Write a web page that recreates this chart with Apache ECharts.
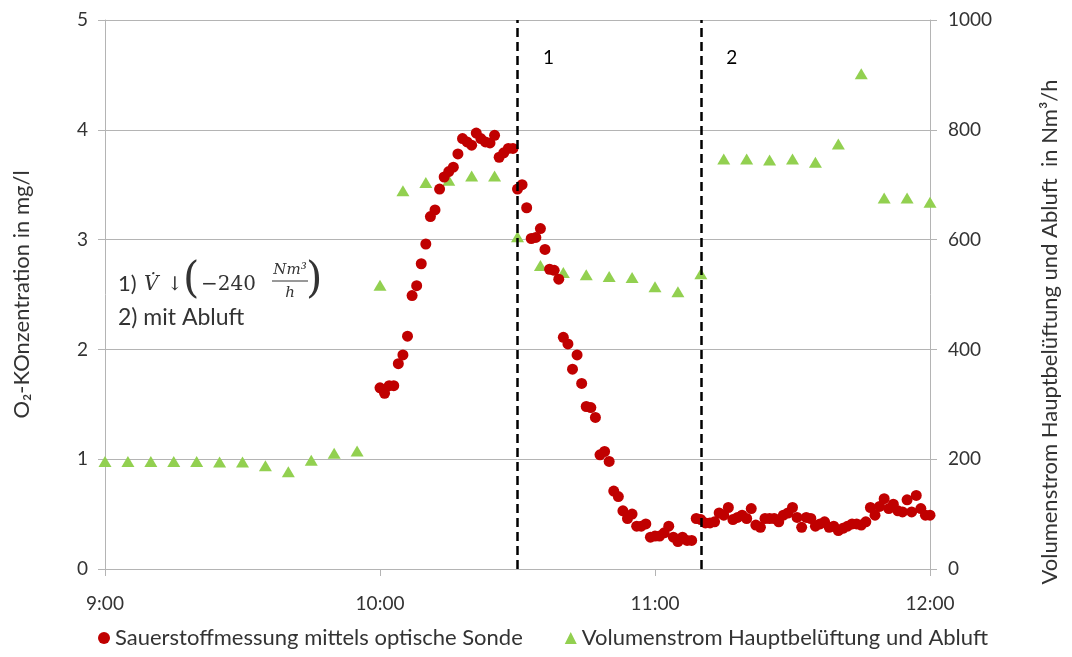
<!DOCTYPE html>
<html>
<head>
<meta charset="utf-8">
<script src="https://cdn.jsdelivr.net/npm/echarts@6/dist/echarts.min.js"></script>
<style>
  html, body { margin: 0; padding: 0; background: #fff; }
  #chart { width: 1072px; height: 657px; }
</style>
</head>
<body>
<div id="chart"></div>
<script>
// x in minutes after 9:00
const xTicks = [0, 60, 120, 180];

// O2 probe readings, one per minute from 10:00 to 12:00
const o2Minutes = [
  60, 61, 62, 63, 64, 65, 66, 67, 68, 69, 70, 71, 72, 73, 74, 75, 76, 77, 78, 79,
  80, 81, 82, 83, 84, 85, 86, 87, 88, 89, 90, 91, 92, 93, 94, 95, 96, 97, 98, 99,
  100, 101, 102, 103, 104, 105, 106, 107, 108, 109, 110, 111, 112, 113, 114, 115, 116, 117, 118, 119,
  120, 121, 122, 123, 124, 125, 126, 127, 128, 129, 130, 131, 132, 133, 134, 135, 136, 137, 138, 139,
  140, 141, 142, 143, 144, 145, 146, 147, 148, 149, 150, 151, 152, 153, 154, 155, 156, 157, 158, 159,
  160, 161, 162, 163, 164, 165, 166, 167, 168, 169, 170, 171, 172, 173, 174, 175, 176, 177, 178, 179,
  180
];
const o2Values = [
  1.65, 1.60, 1.67, 1.67, 1.87, 1.95, 2.12, 2.49, 2.58, 2.78, 2.96, 3.21, 3.27, 3.46, 3.57, 3.62, 3.66, 3.78, 3.92, 3.89,
  3.86, 3.97, 3.92, 3.89, 3.88, 3.95, 3.75, 3.79, 3.83, 3.83, 3.46, 3.50, 3.29, 3.01, 3.02, 3.10, 2.91, 2.73, 2.72, 2.64,
  2.11, 2.05, 1.82, 1.95, 1.69, 1.48, 1.47, 1.38, 1.04, 1.07, 0.98, 0.71, 0.66, 0.53, 0.46, 0.50, 0.39, 0.39, 0.41, 0.29,
  0.30, 0.30, 0.33, 0.39, 0.29, 0.25, 0.29, 0.26, 0.26, 0.46, 0.45, 0.42, 0.42, 0.43, 0.51, 0.49, 0.56, 0.45, 0.47, 0.49,
  0.46, 0.55, 0.40, 0.38, 0.46, 0.46, 0.46, 0.43, 0.49, 0.51, 0.56, 0.47, 0.38, 0.47, 0.46, 0.39, 0.41, 0.43, 0.38, 0.39,
  0.35, 0.37, 0.39, 0.41, 0.41, 0.40, 0.43, 0.56, 0.49, 0.57, 0.64, 0.55, 0.59, 0.53, 0.52, 0.63, 0.52, 0.67, 0.55, 0.49,
  0.49
];

// air flow, every 5 minutes from 9:00 to 12:00
const flowMinutes = [
  0, 5, 10, 15, 20, 25, 30, 35, 40, 45, 50, 55,
  60, 65, 70, 75, 80, 85, 90, 95, 100, 105, 110, 115, 120, 125, 130,
  135, 140, 145, 150, 155, 160, 165, 170, 175, 180
];
const flowValues = [
  196, 196, 196, 196, 196, 195, 195, 188, 177, 198, 211, 215,
  517, 689, 704, 708, 716, 716, 605, 553, 540, 536, 533, 531, 514, 505, 538,
  747, 747, 745, 747, 741, 774, 902, 676, 676, 668
];

// phase markers
const phaseMinutes = [90, 130];
const phaseLabels = ['1', '2'];

const o2Name = 'Sauerstoffmessung mittels optische Sonde';
const flowName = 'Volumenstrom Hauptbelüftung und Abluft';

const font = 'Lato, "Open Sans", sans-serif';
const mathFont = '"DejaVu Serif", serif';
const textColor = '#333';
const gridColor = '#b4b4b4';

const chart = echarts.init(document.getElementById('chart'));

const option = {
  animation: false,
  textStyle: { fontFamily: font },
  grid: { left: 105, right: 142, top: 20, bottom: 88, outerBoundsMode: 'none', containLabel: false },
  legend: {
    bottom: 3,
    left: 93,
    itemGap: 42,
    itemWidth: 12,
    itemHeight: 12,
    textStyle: { fontSize: 22, color: textColor, fontFamily: font },
    data: [
      { name: o2Name, icon: 'circle' },
      { name: flowName, icon: 'triangle' }
    ]
  },
  xAxis: {
    type: 'value',
    min: xTicks[0],
    max: xTicks[xTicks.length - 1],
    interval: 60,
    axisLine: { lineStyle: { color: gridColor } },
    axisTick: { show: true, length: 7, lineStyle: { color: gridColor } },
    splitLine: { show: false },
    axisLabel: {
      color: textColor,
      fontSize: 19,
      margin: 25,
      formatter: v => (9 + v / 60) + ':00'
    }
  },
  yAxis: [
    {
      type: 'value',
      min: 0,
      max: 5,
      interval: 1,
      name: 'O₂-KOnzentration in mg/l',
      nameLocation: 'middle',
      nameRotate: 90,
      nameGap: 72,
      nameTextStyle: { fontSize: 22, color: textColor },
      axisLine: { show: true, lineStyle: { color: gridColor } },
      axisTick: { show: true, length: 7, lineStyle: { color: gridColor } },
      splitLine: { lineStyle: { color: gridColor } },
      axisLabel: { color: textColor, fontSize: 19, margin: 17 }
    },
    {
      type: 'value',
      min: 0,
      max: 1000,
      interval: 200,
      position: 'right',
      axisLine: { show: true, lineStyle: { color: gridColor } },
      axisTick: { show: true, length: 7, lineStyle: { color: gridColor } },
      splitLine: { show: false },
      axisLabel: { color: textColor, fontSize: 19, margin: 18, formatter: v => String(v) }
    }
  ],
  series: [
    {
      name: flowName,
      type: 'scatter',
      yAxisIndex: 1,
      symbol: 'triangle',
      symbolSize: [13, 11],
      itemStyle: { color: '#92d050', opacity: 1 },
      data: flowMinutes.map((m, i) => [m, flowValues[i]])
    },
    {
      name: o2Name,
      type: 'scatter',
      yAxisIndex: 0,
      symbol: 'circle',
      symbolSize: 11,
      itemStyle: { color: '#c00000', opacity: 1 },
      data: o2Minutes.map((m, i) => [m, o2Values[i]]),
      markLine: {
        silent: true,
        symbol: ['none', 'none'],
        lineStyle: { color: '#000', type: [9, 5], width: 2.5 },
        label: {
          position: 'end',
          offset: [31, 52],
          color: '#000',
          fontSize: 19,
          fontFamily: font
        },
        data: phaseMinutes.map((m, i) => ({ xAxis: m, label: { formatter: phaseLabels[i] } }))
      }
    }
  ],
  graphic: [
    // right axis title
    {
      type: 'text', x: 1050, y: 332, rotation: Math.PI / 2,
      style: { text: 'Volumenstrom Hauptbelüftung und Abluft  in Nm³/h', font: '22px ' + font, fill: textColor, align: 'center', verticalAlign: 'middle' }
    },
    // annotation
    { type: 'text', x: 118, y: 284, style: { text: '1)', font: '22px ' + font, fill: textColor, verticalAlign: 'middle' } },
    { type: 'text', x: 144, y: 285, style: { text: 'V\u0307', font: 'italic 20px ' + mathFont, fill: textColor, verticalAlign: 'middle' } },
    { type: 'text', x: 167, y: 285, style: { text: '↓', font: '19px ' + mathFont, fill: textColor, verticalAlign: 'middle' } },
    { type: 'text', x: 183, y: 281, style: { text: '(', font: '300 42px ' + mathFont, fill: textColor, verticalAlign: 'middle' } },
    { type: 'text', x: 201, y: 285, style: { text: '−240', font: '20px ' + mathFont, fill: textColor, verticalAlign: 'middle' } },
    { type: 'text', x: 290, y: 270, style: { text: 'Nm³', font: 'italic 15px ' + mathFont, fill: textColor, verticalAlign: 'middle', align: 'center' } },
    { type: 'line', shape: { x1: 272, y1: 281, x2: 308, y2: 281 }, style: { stroke: textColor, lineWidth: 1 } },
    { type: 'text', x: 290, y: 293, style: { text: 'h', font: 'italic 15px ' + mathFont, fill: textColor, verticalAlign: 'middle', align: 'center' } },
    { type: 'text', x: 306, y: 281, style: { text: ')', font: '300 42px ' + mathFont, fill: textColor, verticalAlign: 'middle' } },
    { type: 'text', x: 118, y: 318, style: { text: '2) mit Abluft', font: '23px ' + font, fill: textColor, verticalAlign: 'middle' } }
  ]
};

chart.setOption(option);
window.addEventListener('resize', () => chart.resize());
</script>
</body>
</html>
